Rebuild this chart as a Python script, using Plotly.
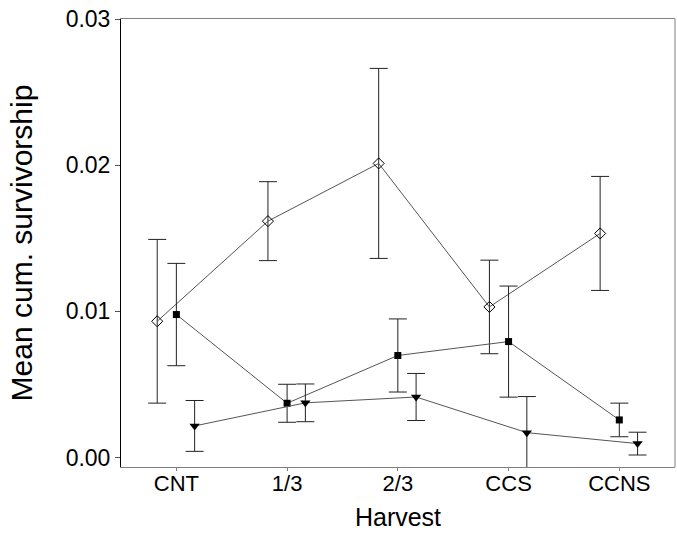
import plotly.graph_objects as go

categories = ["CNT", "1/3", "2/3", "CCS", "CCNS"]

diamond_mean = [0.00932, 0.01617, 0.02012, 0.01030, 0.01533]
diamond_err = [0.0056, 0.0027, 0.0065, 0.0032, 0.0039]

square_mean = [0.00978, 0.00371, 0.00698, 0.00793, 0.00257]
square_err = [0.0035, 0.0013, 0.0025, 0.0038, 0.00115]

triangle_mean = [0.00216, 0.00374, 0.00414, 0.00170, 0.00095]
triangle_err = [0.00174, 0.00129, 0.00161, 0.00247, 0.00078]

y_ticks = [0.0, 0.01, 0.02, 0.03]
y_tick_labels = ["0.00", "0.01", "0.02", "0.03"]

base = list(range(len(categories)))
series = [
    (diamond_mean, diamond_err, -0.173, "diamond-open", 8.5),
    (square_mean, square_err, 0.0, "square", 7),
    (triangle_mean, triangle_err, 0.165, "triangle-down", 9),
]

fig = go.Figure()
for mean, err, off, sym, size in series:
    fig.add_trace(go.Scatter(
        x=[b + off for b in base],
        y=mean,
        mode="lines+markers",
        line=dict(color="#555555", width=1),
        marker=dict(symbol=sym, size=size, color="black",
                    line=dict(color="#555555", width=1) if sym == "diamond-open" else dict(width=0)),
        error_y=dict(type="data", array=err, visible=True, color="#222222",
                     thickness=1, width=9),
        showlegend=False,
    ))

font = "Liberation Sans, Arial, sans-serif"
fig.update_layout(
    width=677, height=535,
    margin=dict(l=121, r=2, t=19, b=68),
    paper_bgcolor="white", plot_bgcolor="white",
    font=dict(family=font, color="black"),
    xaxis=dict(
        range=[-0.5, 4.503],
        tickvals=base, ticktext=categories,
        tickfont=dict(size=22),
        ticks="outside", ticklen=3, tickcolor="#808080",
        ticklabelstandoff=-6,
        showline=True, linecolor="#808080", linewidth=1, mirror=True,
        showgrid=False, zeroline=False, automargin=False,
        title=dict(text="Harvest", font=dict(size=25), standoff=13),
    ),
    yaxis=dict(
        range=[-0.00065, 0.03],
        tickvals=y_ticks, ticktext=y_tick_labels,
        tickfont=dict(size=23),
        ticks="outside", ticklen=5, tickcolor="#555555",
        showline=True, linecolor="black", linewidth=1,
        showgrid=False, zeroline=False, automargin=False,
        title=dict(text="Mean cum. survivorship", font=dict(size=30), standoff=24),
    ),
    shapes=[dict(type="line", xref="paper", yref="paper", x0=1, x1=1, y0=0, y1=1,
                 line=dict(color="#808080", width=1))],
)

fig.write_html(
    "out.html",
    config={"displayModeBar": False},
    post_script="document.body.style.margin='0';document.body.style.padding='0';",
)
